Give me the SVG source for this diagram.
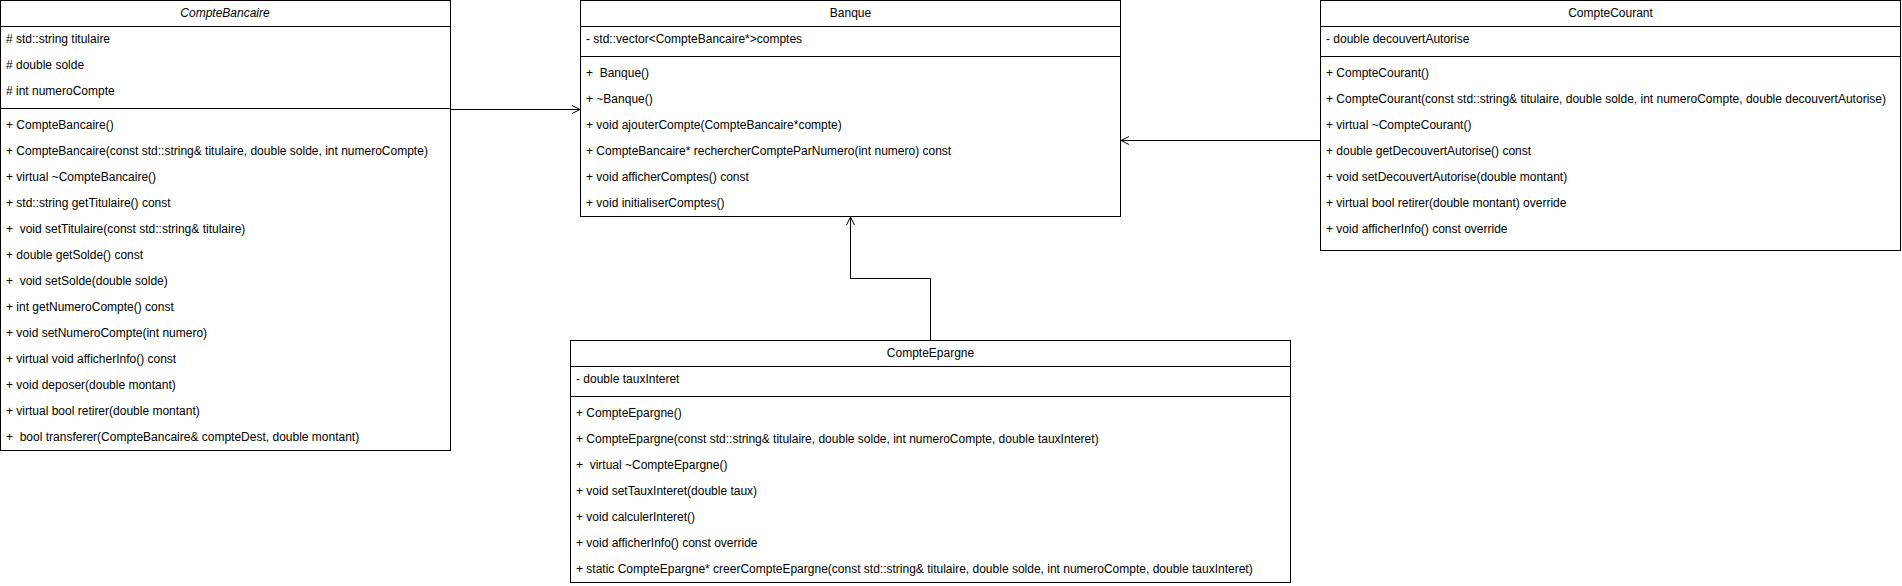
<svg xmlns="http://www.w3.org/2000/svg" width="1902" height="586" viewBox="0 0 1902 586">
<defs>
<style>
.box{fill:#fff;stroke:#000;stroke-width:1}
.ln{stroke:#000;stroke-width:1;fill:none}
text{font-family:"Liberation Sans",Arial,Helvetica,sans-serif;font-size:12px;fill:#000;white-space:pre}
.t{text-anchor:middle}
.i{font-style:italic}
.c{stroke:#000;stroke-width:1;fill:none;marker-end:url(#open)}
</style>
<marker id="open" viewBox="0 0 10 10" refX="9" refY="5" markerWidth="10" markerHeight="10" markerUnits="userSpaceOnUse" orient="auto">
<path d="M1,1 L9,5 L1,9" fill="none" stroke="#000" stroke-width="1"/>
</marker>
</defs>
<rect width="1902" height="586" fill="#fff"/>

<g id="CompteBancaire">
<rect class="box" x="0.5" y="0.5" width="450" height="450"/>
<line class="ln" x1="0.5" y1="26.5" x2="450.5" y2="26.5"/>
<line class="ln" x1="0.5" y1="108.5" x2="450.5" y2="108.5"/>
<text class="t i" x="225" y="17">CompteBancaire</text>
<text x="6" y="43"># std::string titulaire</text>
<text x="6" y="69"># double solde</text>
<text x="6" y="95"># int numeroCompte</text>
<text x="6" y="129">+ CompteBancaire()</text>
<text x="6" y="155">+ CompteBancaire(const std::string&amp; titulaire, double solde, int numeroCompte)</text>
<text x="6" y="181">+ virtual ~CompteBancaire()</text>
<text x="6" y="207">+ std::string getTitulaire() const</text>
<text x="6" y="233">+  void setTitulaire(const std::string&amp; titulaire)</text>
<text x="6" y="259">+ double getSolde() const</text>
<text x="6" y="285">+  void setSolde(double solde)</text>
<text x="6" y="311">+ int getNumeroCompte() const</text>
<text x="6" y="337">+ void setNumeroCompte(int numero)</text>
<text x="6" y="363">+ virtual void afficherInfo() const</text>
<text x="6" y="389">+ void deposer(double montant)</text>
<text x="6" y="415">+ virtual bool retirer(double montant)</text>
<text x="6" y="441">+  bool transferer(CompteBancaire&amp; compteDest, double montant)</text>
</g>

<g id="Banque">
<rect class="box" x="580.5" y="0.5" width="540" height="216"/>
<line class="ln" x1="580.5" y1="26.5" x2="1120.5" y2="26.5"/>
<line class="ln" x1="580.5" y1="56.5" x2="1120.5" y2="56.5"/>
<text class="t" x="850.5" y="17">Banque</text>
<text x="586" y="43">- std::vector&lt;CompteBancaire*&gt;comptes</text>
<text x="586" y="77">+  Banque()</text>
<text x="586" y="103">+ ~Banque()</text>
<text x="586" y="129">+ void ajouterCompte(CompteBancaire*compte)</text>
<text x="586" y="155">+ CompteBancaire* rechercherCompteParNumero(int numero) const</text>
<text x="586" y="181">+ void afficherComptes() const</text>
<text x="586" y="207">+ void initialiserComptes()</text>
</g>

<g id="CompteCourant">
<rect class="box" x="1320.5" y="0.5" width="580" height="250"/>
<line class="ln" x1="1320.5" y1="26.5" x2="1900.5" y2="26.5"/>
<line class="ln" x1="1320.5" y1="56.5" x2="1900.5" y2="56.5"/>
<text class="t" x="1610.5" y="17">CompteCourant</text>
<text x="1326" y="43">- double decouvertAutorise</text>
<text x="1326" y="77">+ CompteCourant()</text>
<text x="1326" y="103">+ CompteCourant(const std::string&amp; titulaire, double solde, int numeroCompte, double decouvertAutorise)</text>
<text x="1326" y="129">+ virtual ~CompteCourant()</text>
<text x="1326" y="155">+ double getDecouvertAutorise() const</text>
<text x="1326" y="181">+ void setDecouvertAutorise(double montant)</text>
<text x="1326" y="207">+ virtual bool retirer(double montant) override</text>
<text x="1326" y="233">+ void afficherInfo() const override</text>
</g>

<g id="CompteEpargne">
<rect class="box" x="570.5" y="340.5" width="720" height="242"/>
<line class="ln" x1="570.5" y1="366.5" x2="1290.5" y2="366.5"/>
<line class="ln" x1="570.5" y1="396.5" x2="1290.5" y2="396.5"/>
<text class="t" x="930.5" y="357">CompteEpargne</text>
<text x="576" y="383">- double tauxInteret</text>
<text x="576" y="417">+ CompteEpargne()</text>
<text x="576" y="443">+ CompteEpargne(const std::string&amp; titulaire, double solde, int numeroCompte, double tauxInteret)</text>
<text x="576" y="469">+  virtual ~CompteEpargne()</text>
<text x="576" y="495">+ void setTauxInteret(double taux)</text>
<text x="576" y="521">+ void calculerInteret()</text>
<text x="576" y="547">+ void afficherInfo() const override</text>
<text x="576" y="573">+ static CompteEpargne* creerCompteEpargne(const std::string&amp; titulaire, double solde, int numeroCompte, double tauxInteret)</text>
</g>

<g id="connectors">
<path class="c" d="M450.5,109.5 H580"/>
<path class="c" d="M1320,140.5 H1121"/>
<path class="c" d="M930.5,340 V278.5 H850.5 V217"/>
</g>
</svg>
